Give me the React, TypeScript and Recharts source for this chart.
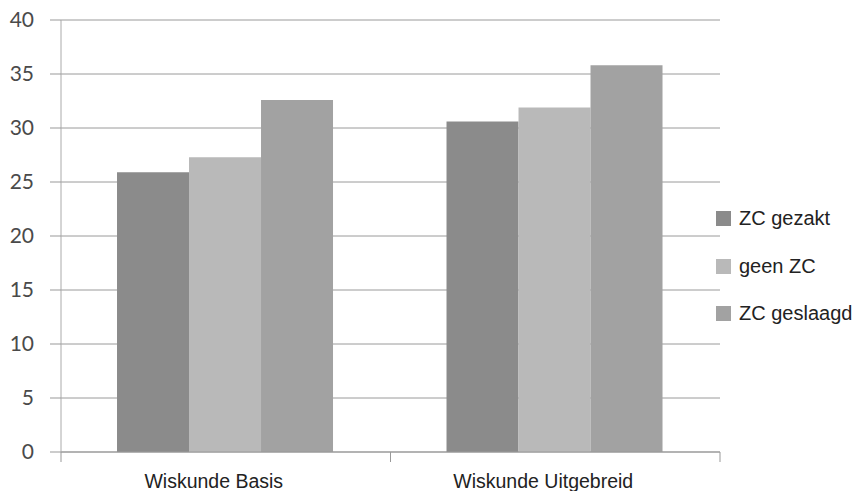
import React from 'react';
import { BarChart, Bar, XAxis, YAxis, CartesianGrid, Legend } from 'recharts';

const categories = ['Wiskunde Basis', 'Wiskunde Uitgebreid'];
const zcGezakt = [25.9, 30.6];
const geenZC = [27.3, 31.9];
const zcGeslaagd = [32.6, 35.8];
const yTicks = [0, 5, 10, 15, 20, 25, 30, 35, 40];

const seriesDefs = [
  { key: 'zcGezakt', name: 'ZC gezakt', color: '#8b8b8b' },
  { key: 'geenZC', name: 'geen ZC', color: '#b9b9b9' },
  { key: 'zcGeslaagd', name: 'ZC geslaagd', color: '#a2a2a2' },
];

const data = categories.map((c, i) => ({
  category: c,
  zcGezakt: zcGezakt[i],
  geenZC: geenZC[i],
  zcGeslaagd: zcGeslaagd[i],
}));

const W = 855;
const H = 491;
const M = { top: 20, right: 135, left: 0, bottom: 0 };
const Y_W = 61;
const BAND = (W - M.right - M.left - Y_W) / categories.length;

const CatTick = (props: any) => {
  const { x, y, payload } = props;
  const half = BAND / 2;
  return (
    <g>
      <line x1={x - half} y1={y - 8} x2={x - half} y2={y + 2} stroke="#999" />
      <line x1={x + half} y1={y - 8} x2={x + half} y2={y + 2} stroke="#999" />
      <text x={x - 12} y={y + 28} textAnchor="middle" fill="#222" fontSize={19.5} fontFamily="'Liberation Sans', Arial, sans-serif">
        {payload.value}
      </text>
    </g>
  );
};

const LegendContent = () => (
  <div style={{ fontFamily: "'Liberation Sans', Arial, sans-serif", fontSize: 20, color: '#222' }}>
    {seriesDefs.map((s) => (
      <div key={s.key} style={{ display: 'flex', alignItems: 'center', height: 47.5 }}>
        <span style={{ display: 'inline-block', width: 15, height: 15, background: s.color, marginRight: 8 }} />
        <span>{s.name}</span>
      </div>
    ))}
  </div>
);

export default function App() {
  return (
    <div style={{ position: 'absolute', left: 0, top: 0, background: '#fff' }}>
      <BarChart width={W} height={H} data={data} margin={M} barCategoryGap="17%" barGap={0}>
        <CartesianGrid horizontal vertical={false} stroke="#9a9a9a" />
        <XAxis
          dataKey="category"
          height={39}
          axisLine={{ stroke: '#999' }}
          tickLine={false}
          tick={<CatTick />}
          interval={0}
        />
        <YAxis
          width={Y_W}
          domain={[0, 40]}
          ticks={yTicks}
          interval={0}
          tickSize={11}
          tickMargin={16}
          axisLine={{ stroke: '#aaa' }}
          tickLine={{ stroke: '#999' }}
          tick={{ fill: '#4a4a4a', fontSize: 21, fontFamily: 'Lato, sans-serif' }}
        />
        <Legend
          layout="vertical"
          align="center"
          verticalAlign="middle"
          content={<LegendContent />}
          wrapperStyle={{ position: 'absolute', left: 716, top: 195, width: 140 }}
        />
        {seriesDefs.map((s) => (
          <Bar key={s.key} dataKey={s.key} name={s.name} fill={s.color} isAnimationActive={false} />
        ))}
      </BarChart>
    </div>
  );
}
